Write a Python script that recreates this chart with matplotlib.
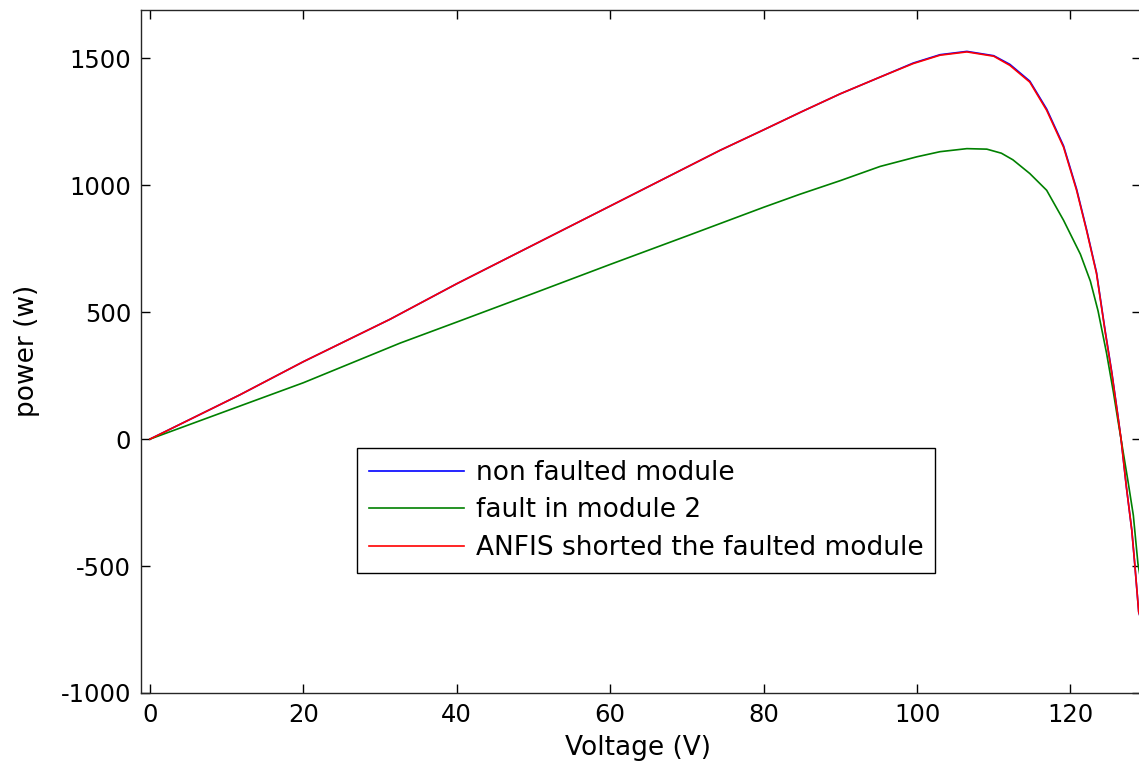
import numpy as np
import matplotlib.pyplot as plt

plt.rcParams['axes.unicode_minus'] = False

# values
volt_nf = [0, 11.7, 20, 31.3, 40, 50, 60, 74.3, 80, 85, 90, 95.2, 99.5, 103, 106.5, 110,
           112.1, 114.7, 116.9, 119.1, 120.8, 122.1, 123.4, 124.5, 125.4, 126.2, 126.6,
           127.3, 128.0, 128.4, 128.9, 129.3]
power_nf = [0, 174, 305, 472, 612, 765, 918, 1137, 1218, 1290, 1360, 1426, 1481, 1514, 1527, 1510,
            1476, 1410, 1300, 1155, 985, 826, 656, 432, 262, 90, 0,
            -190, -359, -497, -681, -720]

volt_fault = [0, 11.7, 20, 32.6, 40, 50, 60, 70, 80, 84.7, 90, 95.2, 100, 103, 106.5, 109.1,
              111, 112.5, 114.7, 116.9, 119.1, 121.3, 122.6, 123.6, 124.7, 125.6, 126.2, 126.6,
              127.5, 128.2, 128.8, 129.3]
power_fault = [0, 130, 222, 378, 461, 574, 688, 800, 913, 964, 1018, 1074, 1112, 1132, 1144, 1142,
               1126, 1100, 1046, 980, 862, 728, 622, 505, 340, 185, 72, 0,
               -165, -300, -490, -580]

volt_anfis = [0, 11.7, 20, 31.3, 40, 50, 60, 74.3, 80, 85, 90, 95.2, 99.5, 103, 106.5, 110,
              112.1, 114.7, 116.9, 119.1, 120.8, 122.1, 123.4, 124.5, 125.4, 126.2, 126.6,
              127.3, 128.0, 128.4, 128.9, 129.3]
power_anfis = [0, 174, 305, 472, 612, 765, 918, 1137, 1218, 1290, 1360, 1426, 1479, 1512, 1525, 1508,
               1472, 1406, 1295, 1150, 980, 822, 652, 428, 258, 87, 0,
               -190, -359, -497, -681, -720]

xticks = np.arange(0, 121, 20)
yticks = np.arange(-1000, 1501, 500)

fig = plt.figure(figsize=(11.39, 7.67), dpi=100)
ax = fig.add_axes([141/1139, 74/767, 1000/1139, 683.5/767])

ax.plot(volt_nf, power_nf, color=(0, 0, 1), lw=1.2, label='non faulted module')
ax.plot(volt_fault, power_fault, color=(0, 0.5, 0), lw=1.2, label='fault in module 2')
ax.plot(volt_anfis, power_anfis, color=(1, 0, 0), lw=1.2, label='ANFIS shorted the faulted module')

ax.set_xlim(-1.17, 129.2)
ax.set_ylim(-1000, 1692)
ax.set_xticks(xticks)
ax.set_yticks(yticks)
ax.tick_params(direction='in', top=True, right=True, length=6.5, width=1,
               labelsize=17.5, pad=7, colors='k')
for s in ax.spines.values():
    s.set_linewidth(1)
    s.set_color('#262626')

ax.set_xlabel('Voltage (V)', fontsize=19)
ax.set_ylabel('power (w)', fontsize=19)
ax.xaxis.set_label_coords(0.497, -0.0614)
ax.yaxis.set_label_coords(-0.101, 0.5)

leg = ax.legend(loc='upper left', bbox_to_anchor=(0.216, 0.3585), fontsize=19,
                frameon=True, fancybox=False, edgecolor='k', framealpha=1,
                borderpad=0.45, labelspacing=0.44, handlelength=3.6,
                handletextpad=0.45, borderaxespad=0)
leg.get_frame().set_linewidth(1)

fig.savefig('out.png', dpi=100)
